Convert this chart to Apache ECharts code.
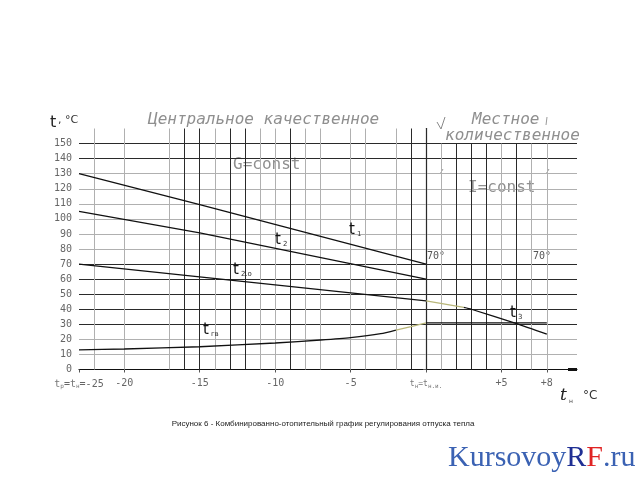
<!DOCTYPE html>
<html>
<head>
<meta charset="utf-8">
<script src="https://cdn.jsdelivr.net/npm/echarts@6/dist/echarts.min.js"></script>
<style>
  html, body { margin: 0; padding: 0; background: #fff; }
  #chart { width: 638px; height: 480px; }
</style>
</head>
<body>
<div id="chart"></div>
<script>
// тики и подписи осей
const xTicks = [-23, -20, -15, -10, -5, 0, 5, 8];
const xTickLabels = ['{i|t}{s|р}={i|t}{s|н}=-25', '-20', '-15', '-10', '-5', '{z|t}{s|н}{z|=t}{s|н.и.}', '+5', '+8'];
const yTicks = [0, 10, 20, 30, 40, 50, 60, 70, 80, 90, 100, 110, 120, 130, 140, 150];

// линии сетки (тёмные и светлые)
const hDark = [30, 40, 50, 60, 70, 140, 150];
const hLight = [10, 20, 80, 90, 100, 110, 120, 130];
const vDark = [-16, -15, -13, -12, -9, -1, 0, 2, 3, 4, 6];
const vLight = [-22, -20, -17, -14, -11, -10, -8, -7, -5, -4, -2, 1, 5, 7, 8];

// t1 - подающая
const t1X = [-23, -15, 0];
const t1Y = [130, 109.5, 70];
// t2 - обратная
const t2X = [-23, -15, 0];
const t2Y = [105, 90.7, 60];
// t2.о
const t2oX = [-23, -10, 0, 2.5, 3, 6, 8];
const t2oY = [70, 56.2, 45.5, 41.2, 40, 30.5, 23.5];
// нижняя кривая
const tgX = [-23, -20, -15, -10, -7, -5, -3, -2, -1, 0, 8];
const tgY = [13, 13.6, 15.1, 17.6, 19.6, 21.2, 23.8, 26.2, 28.5, 31, 31];

function pts(xs, ys, from, to) {
    const out = [];
    for (let i = from; i <= to; i++) out.push([xs[i], ys[i]]);
    return out;
}

function gridLines() {
    const data = [];
    hDark.forEach(v => data.push({ yAxis: v, lineStyle: { color: '#2a2a2a', width: 1, type: 'solid' } }));
    hLight.forEach(v => data.push({ yAxis: v, lineStyle: { color: '#b0b0b0', width: 1, type: 'solid' } }));
    vDark.forEach(v => data.push([
        { coord: [v, 0], lineStyle: { color: '#2a2a2a', width: 1, type: 'solid' } },
        { coord: [v, v <= 0 ? 160 : 150] }
    ]));
    vLight.forEach(v => data.push([
        { coord: [v, 0], lineStyle: { color: '#b0b0b0', width: 1, type: 'solid' } },
        { coord: [v, v <= 0 ? 160 : 150] }
    ]));
    return data;
}

function curve(data, color, smooth) {
    return {
        type: 'line', data: data, symbol: 'none', smooth: smooth || false,
        lineStyle: { color: color, width: 1.3 }, z: 5, silent: true
    };
}

const mono = 'DejaVu Sans Mono';

function tLabel(x, y, sub) {
    return {
        type: 'text', x: x, y: y,
        style: {
            text: '{a|t}{b|' + sub + '}',
            rich: {
                a: { font: '15px DejaVu Sans', fill: '#111' },
                b: { font: '7px DejaVu Sans', fill: '#333', padding: [8, 0, 0, 2] }
            },
            textVerticalAlign: 'middle'
        }, z: 10
    };
}

const chart = echarts.init(document.getElementById('chart'));
chart.setOption({
    animation: false,
    grid: { left: 79, right: 61, top: 128.5, bottom: 110.5 },
    xAxis: {
        type: 'value', min: -23, max: 10,
        splitLine: { show: false },
        axisLine: { lineStyle: { color: '#111', width: 1.2 } },
        axisTick: { customValues: xTicks, length: 3, lineStyle: { color: '#555' } },
        axisLabel: {
            customValues: xTicks, margin: 9, color: '#666', fontFamily: mono, fontSize: 10,
            formatter: v => xTickLabels[xTicks.indexOf(v)],
            rich: {
                i: { fontFamily: mono, fontSize: 10, color: '#777' },
                z: { fontFamily: mono, fontSize: 8, color: '#777' },
                s: { fontFamily: mono, fontSize: 6, color: '#777', padding: [5, 0, 0, 0] }
            }
        }
    },
    yAxis: {
        type: 'value', min: 0, max: 160,
        splitLine: { show: false },
        axisLine: { show: true, lineStyle: { color: '#111', width: 1.2 } },
        axisTick: { show: true, customValues: yTicks, length: 3, lineStyle: { color: '#555' } },
        axisLabel: { customValues: yTicks, margin: 7, color: '#666', fontFamily: mono, fontSize: 10 }
    },
    series: [
        {
            type: 'line', data: [], silent: true,
            markLine: {
                silent: true, symbol: ['none', 'none'], label: { show: false }, animation: false,
                lineStyle: { type: 'solid' }, data: gridLines()
            }
        },
        curve(pts(t1X, t1Y, 0, 2), '#111'),
        curve(pts(t2X, t2Y, 0, 2), '#111'),
        curve(pts(t2oX, t2oY, 0, 2), '#111'),
        curve(pts(t2oX, t2oY, 2, 3), '#b9b77a'),
        curve(pts(t2oX, t2oY, 3, 6), '#111', 0.2),
        curve(pts(tgX, tgY, 0, 7), '#111', 0.2),
        curve(pts(tgX, tgY, 7, 9), '#b9b77a'),
        curve(pts(tgX, tgY, 9, 10), '#111')
    ],
    graphic: [
        // подпись оси Y
        { type: 'text', x: 50, y: 123, style: { text: 't', font: '16px DejaVu Sans', fill: '#222', textVerticalAlign: 'middle' } },
        { type: 'text', x: 58, y: 120, style: { text: ', °C', font: '11px DejaVu Sans', fill: '#333', textVerticalAlign: 'middle' } },
        // зоны регулирования
        { type: 'text', x: 148, y: 120, style: { text: 'Центральное качественное', font: 'italic 16px ' + mono, fill: '#8f8f8f', textVerticalAlign: 'middle' } },
        { type: 'text', x: 472, y: 120, style: { text: 'Местное', font: 'italic 16px ' + mono, fill: '#8f8f8f', textVerticalAlign: 'middle' } },
        { type: 'text', x: 445, y: 136, style: { text: 'количественное', font: 'italic 16px ' + mono, fill: '#8f8f8f', textVerticalAlign: 'middle' } },
        { type: 'polyline', shape: { points: [[437, 122], [441, 129], [445, 117]] }, style: { stroke: '#888', lineWidth: 1, fill: null } },
        { type: 'line', shape: { x1: 547, y1: 117, x2: 546, y2: 125 }, style: { stroke: '#999', lineWidth: 1 } },
        { type: 'line', shape: { x1: 440, y1: 174, x2: 443, y2: 169 }, style: { stroke: '#999', lineWidth: 1 } },
        { type: 'line', shape: { x1: 546, y1: 174, x2: 549, y2: 169 }, style: { stroke: '#999', lineWidth: 1 } },
        { type: 'text', x: 233, y: 165, style: { text: 'G=const', font: '16px ' + mono, fill: '#8f8f8f', textVerticalAlign: 'middle' } },
        { type: 'text', x: 468, y: 188, style: { text: 'I=const', font: '16px ' + mono, fill: '#8f8f8f', textVerticalAlign: 'middle' } },
        { type: 'text', x: 427, y: 256, style: { text: '70°', font: '10px ' + mono, fill: '#555', textVerticalAlign: 'middle' } },
        { type: 'text', x: 533, y: 256, style: { text: '70°', font: '10px ' + mono, fill: '#555', textVerticalAlign: 'middle' } },
        // подписи кривых
        tLabel(349, 230, '1'),
        tLabel(275, 240, '2'),
        tLabel(233, 270, '2.о'),
        tLabel(203, 330, 'гв'),
        tLabel(510, 313, '3'),
        // подпись оси X
        { type: 'text', x: 560, y: 396, style: { text: 't', font: 'italic 17px DejaVu Serif', fill: '#222', textVerticalAlign: 'middle' } },
        { type: 'text', x: 569, y: 401, style: { text: 'н', font: '6px DejaVu Sans', fill: '#444', textVerticalAlign: 'middle' } },
        { type: 'text', x: 583, y: 396, style: { text: '°C', font: '12px DejaVu Sans', fill: '#333', textVerticalAlign: 'middle' } },
        { type: 'rect', shape: { x: 568, y: 368, width: 9, height: 3 }, style: { fill: '#111' } },
        // заголовок рисунка
        { type: 'text', x: 323, y: 424, style: { text: 'Рисунок 6 - Комбинированно-отопительный график регулирования отпуска тепла', font: '8px Liberation Sans', fill: '#222', textAlign: 'center', textVerticalAlign: 'middle' } },
        // водяной знак
        {
            type: 'text', x: 448, y: 458,
            style: {
                text: '{a|Kursovoy}{r|R}{f|F}{a|.ru}',
                rich: {
                    a: { font: '30px Liberation Serif', fill: '#3b62b3' },
                    r: { font: '30px Liberation Serif', fill: '#1f2f94' },
                    f: { font: '30px Liberation Serif', fill: '#e02424' }
                },
                textVerticalAlign: 'middle'
            }
        }
    ]
});
</script>
</body>
</html>
